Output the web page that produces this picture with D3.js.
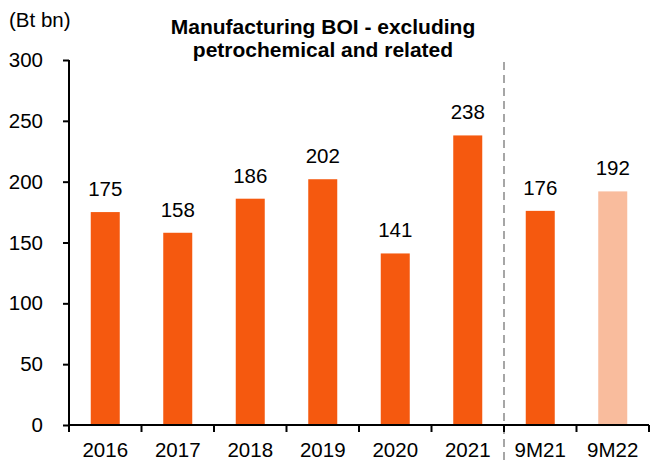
<!DOCTYPE html>
<html lang="en">
<head>
    <meta charset="UTF-8">
    <title>Manufacturing BOI</title>
    <style>
        body { margin: 0; background: #fff; }
        #chart { width: 650px; height: 461px; }
        text { font-family: "Liberation Sans", Arial, sans-serif; fill: #000; }
    </style>
</head>
<body>
    <div id="chart"></div>
    <script src="https://d3js.org/d3.v7.min.js"></script>
    <script>
        // chart values
        const categories = ["2016", "2017", "2018", "2019", "2020", "2021", "9M21", "9M22"];
        const values = [175, 158, 186, 202, 141, 238, 176, 192];
        const yTicks = [0, 50, 100, 150, 200, 250, 300];
        const titleLines = ["Manufacturing BOI - excluding", "petrochemical and related"];

        const W = 650, H = 461;
        const svg = d3.select("#chart").append("svg")
            .attr("width", W)
            .attr("height", H);

        const x = d3.scaleBand()
            .domain(categories)
            .range([69, 649])
            .paddingInner(0.6)
            .paddingOuter(0.3);

        const y = d3.scaleLinear()
            .domain([0, 300])
            .range([425, 60]);

        // bars
        svg.selectAll("rect.bar")
            .data(values)
            .enter()
            .append("rect")
            .attr("class", "bar")
            .attr("x", (d, i) => x(categories[i]))
            .attr("width", x.bandwidth())
            .attr("y", d => y(d))
            .attr("height", d => y(0) - y(d))
            .attr("fill", (d, i) => categories[i] === "9M22" ? "#f9bc9d" : "#f5590f");

        // value labels
        svg.selectAll("text.val")
            .data(values)
            .enter()
            .append("text")
            .attr("class", "val")
            .attr("x", (d, i) => x(categories[i]) + x.bandwidth() / 2)
            .attr("y", d => y(d) - 16)
            .attr("text-anchor", "middle")
            .style("font-size", "20.5px")
            .text(d => d);

        // separator between full years and 9M figures
        const sepX = x("9M21") - x.step() * x.paddingInner() / 2;
        svg.append("line")
            .attr("x1", sepX).attr("x2", sepX)
            .attr("y1", 62).attr("y2", H)
            .attr("stroke", "#a6a6a6")
            .attr("stroke-width", 2)
            .attr("stroke-dasharray", "8,5");

        // y axis
        const yAxis = svg.append("g")
            .attr("transform", "translate(69,0)")
            .call(d3.axisLeft(y).tickValues(yTicks).tickSize(6).tickPadding(20));
        yAxis.selectAll("text").style("font-size", "20.5px");

        // x axis with ticks at band edges
        const edges = categories.map(c => x(c) - x.step() * x.paddingInner() / 2).concat([649]);
        const xAxisG = svg.append("g").attr("transform", "translate(0,425)");
        xAxisG.append("line")
            .attr("x1", 69).attr("x2", 649)
            .attr("stroke", "#000").attr("stroke-width", 2);
        xAxisG.selectAll("line.tk")
            .data(edges)
            .enter()
            .append("line")
            .attr("class", "tk")
            .attr("x1", d => d).attr("x2", d => d)
            .attr("y1", 0).attr("y2", 7)
            .attr("stroke", "#000").attr("stroke-width", 2);
        xAxisG.selectAll("text")
            .data(categories)
            .enter()
            .append("text")
            .attr("x", d => x(d) + x.bandwidth() / 2)
            .attr("y", 32)
            .attr("text-anchor", "middle")
            .style("font-size", "20.5px")
            .text(d => d);

        yAxis.select(".domain").attr("stroke-width", 2).attr("d", "M0,60V425");
        yAxis.selectAll(".tick line").attr("stroke-width", 2);

        // unit label and title
        svg.append("text")
            .attr("x", 9).attr("y", 27)
            .style("font-size", "20.5px")
            .text("(Bt bn)");

        svg.selectAll("text.title")
            .data(titleLines)
            .enter()
            .append("text")
            .attr("class", "title")
            .attr("x", 323)
            .attr("y", (d, i) => 34 + i * 23)
            .attr("text-anchor", "middle")
            .style("font-size", "21px")
            .style("font-weight", "bold")
            .text(d => d);
    </script>
</body>
</html>
